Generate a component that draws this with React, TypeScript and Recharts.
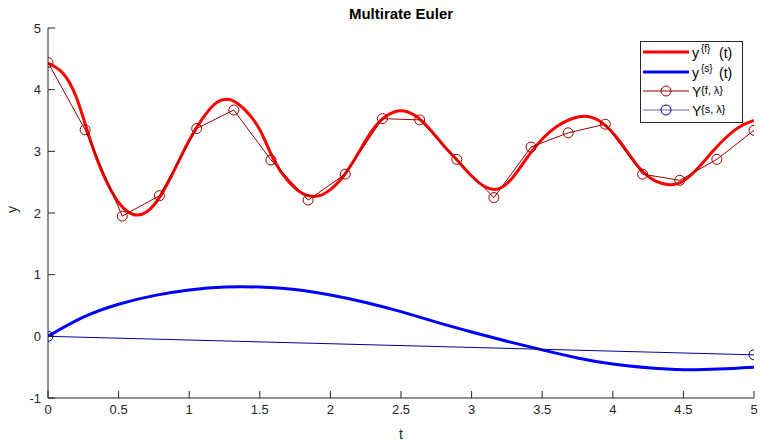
import React from 'react';
import { LineChart, Line, XAxis, YAxis, Label } from 'recharts';

// Fine-grid reference solution y^{f}(t)
const tFine = [0, 0.1, 0.2, 0.3, 0.4, 0.5, 0.6, 0.7, 0.8, 0.9, 1.0, 1.1, 1.2, 1.3, 1.4, 1.5, 1.6, 1.7, 1.8, 1.9, 2.0, 2.1, 2.2, 2.3, 2.4, 2.5, 2.6, 2.7, 2.8, 2.9, 3.0, 3.1, 3.2, 3.3, 3.4, 3.5, 3.6, 3.7, 3.8, 3.9, 4.0, 4.1, 4.2, 4.3, 4.4, 4.5, 4.6, 4.7, 4.8, 4.9, 5.0];
const yFast = [4.43, 4.28, 3.88, 3.18, 2.58, 2.17, 1.98, 2.02, 2.29, 2.72, 3.18, 3.55, 3.8, 3.83, 3.66, 3.35, 2.86, 2.52, 2.32, 2.27, 2.38, 2.62, 2.98, 3.35, 3.58, 3.66, 3.58, 3.37, 3.1, 2.85, 2.6, 2.42, 2.4, 2.6, 2.92, 3.2, 3.4, 3.52, 3.57, 3.5, 3.3, 3.0, 2.7, 2.52, 2.46, 2.52, 2.72, 2.98, 3.22, 3.4, 3.5];

// Slow component y^{s}(t)
const tSlow = [0, 0.25, 0.5, 0.75, 1.0, 1.25, 1.5, 1.75, 2.0, 2.25, 2.5, 2.75, 3.0, 3.25, 3.5, 3.75, 4.0, 4.25, 4.5, 4.75, 5.0];
const ySlow = [0, 0.31, 0.52, 0.66, 0.75, 0.8, 0.8, 0.76, 0.67, 0.55, 0.4, 0.23, 0.07, -0.08, -0.22, -0.35, -0.45, -0.51, -0.54, -0.53, -0.5];

// Multirate Euler fast micro-steps Y^{f, lambda}
const tMicro = [0, 0.263, 0.526, 0.789, 1.053, 1.316, 1.579, 1.842, 2.105, 2.368, 2.632, 2.895, 3.158, 3.421, 3.684, 3.947, 4.211, 4.474, 4.737, 5.0];
const yMicro = [4.44, 3.35, 1.95, 2.28, 3.37, 3.67, 2.86, 2.21, 2.63, 3.53, 3.51, 2.87, 2.25, 3.07, 3.3, 3.44, 2.63, 2.53, 2.87, 3.34];

// Multirate Euler slow macro-step Y^{s, lambda}
const tMacro = [0, 5];
const yMacro = [0, -0.3];

const xTicks = [0, 0.5, 1, 1.5, 2, 2.5, 3, 3.5, 4, 4.5, 5];
const yTicks = [-1, 0, 1, 2, 3, 4, 5];

const zip = (ts: number[], ys: number[]) => ts.map((t, i) => ({ t, y: ys[i] }));
const fastData = zip(tFine, yFast);
const slowData = zip(tSlow, ySlow);
const microData = zip(tMicro, yMicro);
const macroData = zip(tMacro, yMacro);

const FONT = '"Liberation Sans", Arial, Helvetica, sans-serif';
const AX = '#262626';
const RED = '#ff0000';
const BLUE = '#0000ff';
const MAROON = '#990000';
const NAVY = '#000099';

const tickStyle = { fontSize: 13, fill: AX, fontFamily: FONT };

export default function App() {
  return (
    <div style={{ position: 'absolute', left: 0, top: 0, width: 760, height: 442, background: '#fff' }}>
      <LineChart
        width={760}
        height={442}
        margin={{ top: 28, right: 6, left: 0, bottom: 0 }}
        style={{ fontFamily: FONT }}
      >
        <XAxis
          dataKey="t"
          type="number"
          domain={[0, 5]}
          ticks={xTicks}
          height={44}
          tickSize={-7}
          tickMargin={14}
          tick={tickStyle}
          stroke={AX}
          tickLine={{ stroke: AX }}
          allowDataOverflow
        >
          <Label value="t" position="insideBottom" offset={3} style={{ fontSize: 14, fill: AX, fontFamily: FONT }} />
        </XAxis>
        <YAxis
          type="number"
          domain={[-1, 5]}
          ticks={yTicks}
          width={48}
          tickSize={-7}
          tickMargin={14}
          tick={tickStyle}
          stroke={AX}
          tickLine={{ stroke: AX }}
          allowDataOverflow
        >
          <Label value="y" angle={-90} position="insideLeft" offset={12} style={{ fontSize: 14, fill: AX, fontFamily: FONT }} />
        </YAxis>
        <Line data={fastData} dataKey="y" type="natural" stroke={RED} strokeWidth={3} dot={false} activeDot={false} isAnimationActive={false} />
        <Line data={slowData} dataKey="y" type="natural" stroke={BLUE} strokeWidth={3} dot={false} activeDot={false} isAnimationActive={false} />
        <Line data={microData} dataKey="y" type="linear" stroke={MAROON} strokeWidth={1} dot={{ r: 5, fill: 'none', stroke: MAROON, strokeWidth: 1 }} activeDot={false} isAnimationActive={false} />
        <Line data={macroData} dataKey="y" type="linear" stroke={NAVY} strokeWidth={1} dot={{ r: 5, fill: 'none', stroke: NAVY, strokeWidth: 1 }} activeDot={false} isAnimationActive={false} />
      </LineChart>
      <svg width={760} height={442} style={{ position: 'absolute', left: 0, top: 0, pointerEvents: 'none' }} fontFamily={FONT}>
        <text x={401} y={19} textAnchor="middle" fontSize={15} fontWeight="bold" fill="#000">Multirate Euler</text>
        <rect x={640.5} y={41.5} width={102} height={81} fill="#fff" stroke={AX} strokeWidth={1} />
        <line x1={643} x2={689} y1={52} y2={52} stroke={RED} strokeWidth={3} />
        <text y={58} fontSize={14} fill="#000">
          <tspan x={692}>y</tspan>
          <tspan x={701} dy={-6} fontSize={10}>{'{f}'}</tspan>
          <tspan x={719} dy={6}>(t)</tspan>
        </text>
        <line x1={643} x2={689} y1={72} y2={72} stroke={BLUE} strokeWidth={3} />
        <text y={78} fontSize={14} fill="#000">
          <tspan x={692}>y</tspan>
          <tspan x={701} dy={-6} fontSize={10}>{'{s}'}</tspan>
          <tspan x={719} dy={6}>(t)</tspan>
        </text>
        <line x1={643} x2={689} y1={91} y2={91} stroke={MAROON} strokeWidth={1} />
        <circle cx={666} cy={91} r={5} fill="none" stroke={MAROON} strokeWidth={1} />
        <text y={97} fontSize={14} fill="#000">
          <tspan x={692}>Y</tspan>
          <tspan x={701} dy={-3} fontSize={11}>{'{f,  λ}'}</tspan>
        </text>
        <line x1={643} x2={689} y1={110} y2={110} stroke={NAVY} strokeWidth={1} opacity={0.6} />
        <circle cx={666} cy={110} r={5} fill="none" stroke={NAVY} strokeWidth={1} />
        <text y={116} fontSize={14} fill="#000">
          <tspan x={692}>Y</tspan>
          <tspan x={701} dy={-3} fontSize={11}>{'{s,  λ}'}</tspan>
        </text>
      </svg>
    </div>
  );
}
